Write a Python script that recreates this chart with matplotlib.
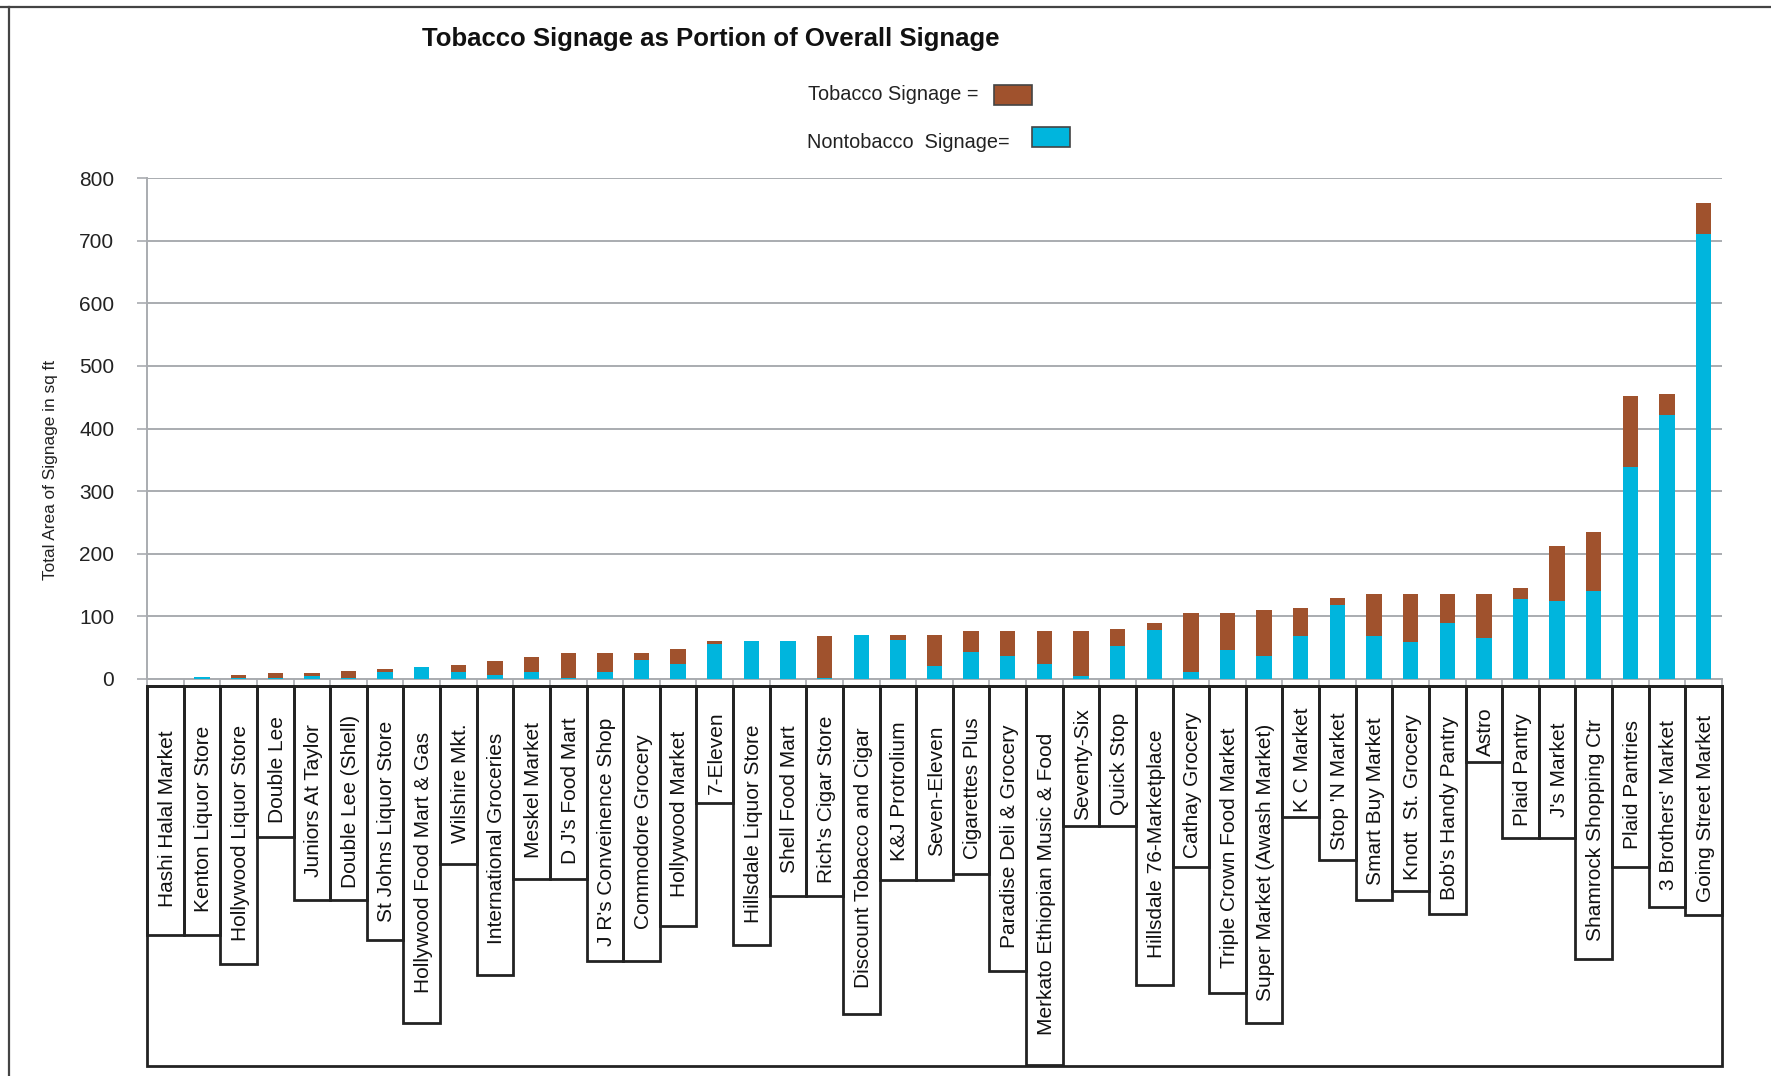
import numpy as np
import matplotlib.pyplot as plt
from matplotlib.patches import Rectangle
from matplotlib.lines import Line2D

plt.rcParams['font.family'] = ['Liberation Sans', 'DejaVu Sans']

stores = [
    "Hashi Halal Market", "Kenton Liquor Store", "Hollywood Liquor Store", "Double Lee",
    "Juniors At Taylor", "Double Lee (Shell)", "St Johns Liquor Store",
    "Hollywood Food Mart & Gas", "Wilshire Mkt.", "International Groceries",
    "Meskel Market", "D J's Food Mart", "J R's Conveinence Shop", "Commodore Grocery",
    "Hollywood Market", "7-Eleven", "Hillsdale Liquor Store", "Shell Food Mart",
    "Rich's Cigar Store", "Discount Tobacco and Cigar", "K&J Protrolium", "Seven-Eleven",
    "Cigarettes Plus", "Paradise Deli & Grocery", "Merkato Ethiopian Music & Food",
    "Seventy-Six", "Quick Stop", "Hillsdale 76-Marketplace", "Cathay Grocery",
    "Triple Crown Food Market", "Super Market (Awash Market)", "K C Market",
    "Stop 'N Market", "Smart Buy Market", "Knott  St. Grocery", "Bob's Handy Pantry",
    "Astro", "Plaid Pantry", "J's Market", "Shamrock Shopping Ctr", "Plaid Pantries",
    "3 Brothers' Market", "Going Street Market",
]

# sq ft of non-tobacco signage (blue part)
nontobacco = [0, 3, 1, 2, 4, 2, 11, 19, 11, 7, 11, 2, 11, 30, 24, 56, 61, 61, 1, 71,
              63, 20, 43, 37, 24, 4, 53, 79, 11, 46, 37, 69, 118, 69, 59, 89, 66, 127,
              124, 140, 339, 422, 710]
# sq ft of tobacco signage (brown part)
tobacco = [0, 0, 5, 7, 5, 10, 5, 0, 11, 21, 24, 39, 30, 12, 24, 5, 0, 0, 67, 0,
           8, 51, 34, 40, 53, 73, 27, 11, 95, 60, 73, 44, 11, 66, 77, 47, 70, 18,
           88, 94, 113, 33, 50]

y_ticks = [0, 100, 200, 300, 400, 500, 600, 700, 800]

# depth (px) of each label box below the axis -- layout only
label_box_depth = [249, 249, 278, 151, 214, 214, 254, 337, 178, 289, 193, 193, 275,
                   275, 240, 117, 259, 210, 210, 328, 194, 194, 188, 285, 379, 140,
                   140, 299, 181, 307, 337, 131, 174, 214, 205, 228, 76, 152, 152,
                   273, 181, 221, 229]

W, H = 1771, 1076
fig = plt.figure(figsize=(W / 100, H / 100), dpi=100)

def fx(px):
    return px / W

def fy(py):
    return 1 - py / H

TOB = '#A0522D'
NON = '#00B5DD'
GRID = '#a9acb0'

ax_left, ax_right, ax_top, ax_base = 147, 1722, 178, 679
ax = fig.add_axes([fx(ax_left), fy(ax_base), fx(ax_right - ax_left), (ax_base - ax_top) / H])

x = np.arange(len(stores))
ax.bar(x, nontobacco, width=0.42, color=NON, zorder=3)
ax.bar(x, tobacco, width=0.42, bottom=nontobacco, color=TOB, zorder=3)

ax.set_xlim(-0.5, len(stores) - 0.5)
ax.set_ylim(0, 800)
ax.set_yticks(y_ticks)
ax.set_yticklabels([str(v) for v in y_ticks], fontsize=15, color='#222222')
ax.yaxis.grid(True, color=GRID, lw=1.4, zorder=0)
ax.set_xticks([])
ax.set_xticks(np.arange(-0.5, len(stores), 1), minor=True)
ax.tick_params(axis='x', which='minor', length=5, color=GRID, width=1.2)
ax.tick_params(axis='y', length=7.5, color=GRID, width=1.2, pad=16)
for s in ['top', 'right']:
    ax.spines[s].set_visible(False)
for s in ['left', 'bottom']:
    ax.spines[s].set_color(GRID)
    ax.spines[s].set_linewidth(1.4)
ax.set_ylabel('Total Area of Signage in sq ft', fontsize=12.4, color='#222222')
ax.yaxis.set_label_coords((58 - ax_left) / (ax_right - ax_left), (ax_base - 470) / (ax_base - ax_top))

# label boxes beneath the chart
lab_top, lab_bot = 686, 1066
ax2 = fig.add_axes([fx(ax_left), fy(lab_bot), fx(ax_right - ax_left), (lab_bot - lab_top) / H])
ax2.set_xlim(-0.5, len(stores) - 0.5)
ax2.set_ylim(lab_bot, lab_top)
ax2.axis('off')
ax2.add_patch(Rectangle((-0.5, lab_top), len(stores), lab_bot - lab_top, fill=False,
                        ec='#222222', lw=2, clip_on=False))
for i, (name, d) in enumerate(zip(stores, label_box_depth)):
    ax2.add_patch(Rectangle((i - 0.5, lab_top), 1, d, fill=False, ec='#222222', lw=2,
                            clip_on=False))
    ax2.text(i + 0.05, lab_top + d / 2 + 8, name, rotation=90, ha='center', va='center',
             fontsize=15, color='#111111', clip_on=False)

# title and legend
fig.text(fx(711), fy(39), 'Tobacco Signage as Portion of Overall Signage', ha='center',
         va='center', fontsize=18.5, fontweight='bold', color='#111111')
fig.text(fx(808), fy(94), 'Tobacco Signage =', ha='left', va='center', fontsize=14.3,
         color='#222222')
fig.text(fx(807), fy(142), 'Nontobacco  Signage=', ha='left', va='center', fontsize=14.3,
         color='#222222')
fig.patches.append(Rectangle((fx(994), fy(105)), fx(38), 20 / H, transform=fig.transFigure,
                             fc=TOB, ec='#444444', lw=1.2))
fig.patches.append(Rectangle((fx(1032), fy(147)), fx(38), 20 / H, transform=fig.transFigure,
                             fc=NON, ec='#444444', lw=1.2))

# outer frame (top and left edges)
fig.lines.append(Line2D([0, 1], [fy(7), fy(7)], transform=fig.transFigure, color='#444444', lw=1.6))
fig.lines.append(Line2D([fx(9), fx(9)], [0, fy(7)], transform=fig.transFigure, color='#444444', lw=1.6))

fig.savefig('out.png', dpi=100)
